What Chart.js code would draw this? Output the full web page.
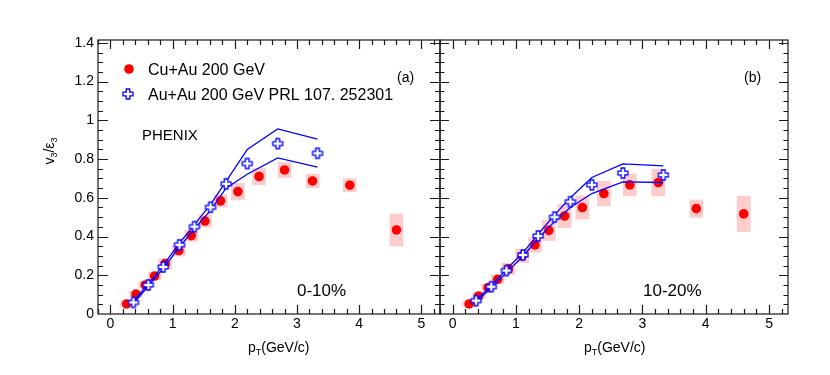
<!DOCTYPE html>
<html>
<head>
<meta charset="utf-8">
<script src="https://cdn.jsdelivr.net/npm/chart.js@4.4.1/dist/chart.umd.min.js"></script>
<style>
  html, body { margin: 0; padding: 0; background: #fff; }
  #wrap { position: relative; width: 830px; height: 375px; }
  #wrap canvas { position: absolute; left: 0; top: 0; }
</style>
</head>
<body>
<div id="wrap">
  <canvas id="panelA" width="830" height="375"></canvas>
  <canvas id="panelB" width="830" height="375"></canvas>
</div>
<script>
// ---- data ----
const cuAuPt = [0.26, 0.41, 0.56, 0.71, 0.88, 1.10, 1.30, 1.52, 1.77, 2.05, 2.39, 2.80, 3.25, 3.85, 4.60];
const cuAu010 = [0.052, 0.103, 0.150, 0.196, 0.260, 0.328, 0.405, 0.480, 0.584, 0.632, 0.710, 0.744, 0.687, 0.665, 0.434];
const cuAu010Sys = [0.012, 0.015, 0.017, 0.020, 0.026, 0.028, 0.030, 0.031, 0.032, 0.043, 0.043, 0.039, 0.035, 0.034, 0.083];
const cuAu1020 = [0.052, 0.093, 0.136, 0.179, 0.233, 0.300, 0.357, 0.432, 0.506, 0.550, 0.622, 0.667, 0.679, 0.544, 0.517];
const cuAu1020Sys = [0.012, 0.015, 0.018, 0.022, 0.030, 0.035, 0.038, 0.052, 0.060, 0.060, 0.063, 0.057, 0.069, 0.045, 0.092];

const auAuPt = [0.37, 0.61, 0.85, 1.11, 1.35, 1.61, 1.86, 2.20, 2.69, 3.33];
const auAu010 = [0.060, 0.150, 0.243, 0.357, 0.451, 0.551, 0.672, 0.777, 0.880, 0.830];
const auAu1020 = [0.069, 0.141, 0.224, 0.305, 0.403, 0.500, 0.580, 0.667, 0.728, 0.718];
// upper / lower edges of the Au+Au band (blue lines)
const auAu010Hi = [0.066, 0.156, 0.252, 0.366, 0.462, 0.566, 0.685, 0.850, 0.956, 0.903];
const auAu010Lo = [0.054, 0.144, 0.236, 0.346, 0.440, 0.535, 0.650, 0.722, 0.806, 0.758];
const auAu1020Hi = [0.073, 0.146, 0.232, 0.316, 0.412, 0.512, 0.600, 0.705, 0.775, 0.765];
const auAu1020Lo = [0.063, 0.134, 0.215, 0.297, 0.390, 0.477, 0.550, 0.622, 0.682, 0.679];

const xTicks = [0, 1, 2, 3, 4, 5];
const yTicks = [0, 0.2, 0.4, 0.6, 0.8, 1.0, 1.2, 1.4];

const FONT = '"Liberation Sans", Arial, Helvetica, sans-serif';

// ROOT style open cross marker
function openCross(size) {
  const c = document.createElement('canvas');
  c.width = c.height = size + 4;
  const g = c.getContext('2d');
  const h = size / 2, a = size * 0.18, m = c.width / 2;
  g.translate(m, m);
  g.beginPath();
  g.moveTo(-a, -h); g.lineTo(a, -h); g.lineTo(a, -a); g.lineTo(h, -a);
  g.lineTo(h, a); g.lineTo(a, a); g.lineTo(a, h); g.lineTo(-a, h);
  g.lineTo(-a, a); g.lineTo(-h, a); g.lineTo(-h, -a); g.lineTo(-a, -a);
  g.closePath();
  g.fillStyle = '#fff';
  g.fill();
  g.strokeStyle = '#0000ff';
  g.lineWidth = 1.3;
  g.stroke();
  return c;
}
const crossImg = openCross(10);

// frame + inside ticks on all four sides
const rootFrame = {
  id: 'rootFrame',
  afterDatasetsDraw(chart, args, o) {
    const { ctx, chartArea: a, scales: { x, y } } = chart;
    ctx.save();
    ctx.strokeStyle = '#1a1a1a';
    ctx.lineWidth = 1.2;
    ctx.beginPath();
    for (let i = -1; i <= 26; i++) {
      const px = Math.round(x.getPixelForValue(i * 0.2)) + 0.5;
      if (px < a.left || px > a.right) continue;
      const len = i % 5 === 0 ? o.xMajor : o.xMinor;
      ctx.moveTo(px, a.bottom); ctx.lineTo(px, a.bottom - len);
      ctx.moveTo(px, a.top); ctx.lineTo(px, a.top + len);
    }
    for (let i = 0; i <= 28; i++) {
      const py = Math.round(y.getPixelForValue(i * 0.05)) + 0.5;
      if (py < a.top || py > a.bottom) continue;
      const len = i % 4 === 0 ? o.yMajor : o.yMinor;
      ctx.moveTo(a.left, py); ctx.lineTo(a.left + len, py);
      ctx.moveTo(a.right, py); ctx.lineTo(a.right - len, py);
    }
    ctx.stroke();
    ctx.strokeRect(a.left, a.top, a.right - a.left, a.bottom - a.top);
    ctx.restore();
  }
};

// titles, panel labels, legend
const annotations = {
  id: 'annotations',
  afterDraw(chart, args, o) {
    const ctx = chart.ctx;
    ctx.save();
    ctx.fillStyle = '#000';
    ctx.textBaseline = 'alphabetic';
    o.texts.forEach(t => {
      ctx.font = t.size + 'px ' + FONT;
      ctx.fillText(t.text, t.x, t.y);
    });

    // p_T(GeV/c)
    let tx = o.xTitle[0];
    const ty = o.xTitle[1];
    ctx.font = '14px ' + FONT;
    ctx.fillText('p', tx, ty);
    tx += ctx.measureText('p').width;
    ctx.font = '9px ' + FONT;
    ctx.fillText('T', tx, ty + 3);
    tx += ctx.measureText('T').width;
    ctx.font = '14px ' + FONT;
    ctx.fillText('(GeV/c)', tx, ty);

    if (o.yTitle) {
      // v_3/ε_3 rotated
      const parts = [['v', 14, 0], ['3', 9, 3], ['/ε', 14, 0], ['3', 9, 3]];
      let w = 0;
      parts.forEach(p => { ctx.font = p[1] + 'px ' + FONT; w += ctx.measureText(p[0]).width; });
      ctx.translate(o.yTitle[0], o.yTitle[1]);
      ctx.rotate(-Math.PI / 2);
      let px = -w / 2;
      parts.forEach(p => {
        ctx.font = p[1] + 'px ' + FONT;
        ctx.fillText(p[0], px, p[2]);
        px += ctx.measureText(p[0]).width;
      });
      ctx.setTransform(1, 0, 0, 1, 0, 0);
    }

    if (o.legend) {
      ctx.fillStyle = '#ff0000';
      ctx.beginPath();
      ctx.arc(129, 69, 4.8, 0, Math.PI * 2);
      ctx.fill();
      ctx.drawImage(crossImg, 128 - crossImg.width / 2, 94 - crossImg.height / 2);
      ctx.fillStyle = '#000';
      ctx.font = '16px ' + FONT;
      ctx.fillText('Cu+Au 200 GeV', 148, 74.5);
      ctx.fillText('Au+Au 200 GeV PRL 107. 252301', 148, 99.5);
    }
    ctx.restore();
  }
};

function points(xs, ys) {
  return xs.map((x, i) => ({ x: x, y: ys[i] }));
}

function makePanel(canvasId, p) {
  const ctx = document.getElementById(canvasId).getContext('2d');
  return new Chart(ctx, {
    type: 'scatter',
    data: {
      datasets: [
        {
          type: 'bar',
          data: cuAuPt.map((x, i) => ({ x: x, y: [p.cu[i] - p.sys[i], p.cu[i] + p.sys[i]] })),
          backgroundColor: 'rgba(255, 0, 0, 0.2)',
          borderWidth: 0,
          barThickness: 13,
          grouped: false,
          order: 4,
        },
        {
          type: 'scatter',
          data: points(cuAuPt, p.cu),
          pointStyle: 'circle',
          pointRadius: 4.8,
          backgroundColor: '#ff0000',
          borderWidth: 0,
          order: 3,
        },
        {
          type: 'line',
          data: points(auAuPt, p.hi),
          borderColor: '#0000ff',
          borderWidth: 1.3,
          pointRadius: 0,
          fill: false,
          order: 2,
        },
        {
          type: 'line',
          data: points(auAuPt, p.lo),
          borderColor: '#0000ff',
          borderWidth: 1.3,
          pointRadius: 0,
          fill: false,
          order: 2,
        },
        {
          type: 'scatter',
          data: points(auAuPt, p.au),
          pointStyle: crossImg,
          pointRadius: 5,
          order: 1,
        },
      ],
    },
    options: {
      responsive: false,
      animation: false,
      events: [],
      devicePixelRatio: 1,
      layout: { padding: p.padding },
      scales: {
        x: {
          type: 'linear',
          min: -0.2,
          max: 5.3,
          offset: false,
          grid: { display: false, drawTicks: false },
          border: { display: false },
          afterBuildTicks: s => { s.ticks = xTicks.map(v => ({ value: v })); },
          afterFit: s => { s.height = 61; },
          ticks: { color: '#000', font: { family: FONT, size: 14 }, padding: 2, maxRotation: 0,
                   callback: v => String(v) },
        },
        y: {
          type: 'linear',
          min: 0,
          max: 1.415,
          display: p.showY,
          grid: { display: false, drawTicks: false },
          border: { display: false },
          afterBuildTicks: s => { s.ticks = yTicks.map(v => ({ value: v })); },
          afterFit: s => { s.width = p.yWidth; },
          ticks: { color: '#000', font: { family: FONT, size: 14 }, padding: 4,
                   callback: v => String(+v.toFixed(1)) },
        },
      },
      plugins: {
        legend: { display: false },
        tooltip: { enabled: false },
        rootFrame: p.frame,
        annotations: p.notes,
      },
    },
    plugins: [rootFrame, annotations],
  });
}

makePanel('panelA', {
  cu: cuAu010, sys: cuAu010Sys, au: auAu010, hi: auAu010Hi, lo: auAu010Lo,
  showY: true, yWidth: 98,
  padding: { left: 0, right: 390, top: 40, bottom: 0 },
  frame: { xMajor: 9, xMinor: 5, yMajor: 10, yMinor: 5 },
  notes: {
    texts: [
      { text: 'PHENIX', x: 142, y: 140, size: 15 },
      { text: '(a)', x: 397, y: 82, size: 14 },
      { text: '0-10%', x: 297, y: 296, size: 17 },
    ],
    xTitle: [248, 352],
    yTitle: [54, 151],
    legend: true,
  },
});

makePanel('panelB', {
  cu: cuAu1020, sys: cuAu1020Sys, au: auAu1020, hi: auAu1020Hi, lo: auAu1020Lo,
  showY: false, yWidth: 0,
  padding: { left: 440, right: 42, top: 40, bottom: 0 },
  frame: { xMajor: 9, xMinor: 5, yMajor: 9, yMinor: 4.5 },
  notes: {
    texts: [
      { text: '(b)', x: 744, y: 82, size: 14 },
      { text: '10-20%', x: 643, y: 296, size: 17 },
    ],
    xTitle: [584, 352],
    yTitle: null,
    legend: false,
  },
});
</script>
</body>
</html>
